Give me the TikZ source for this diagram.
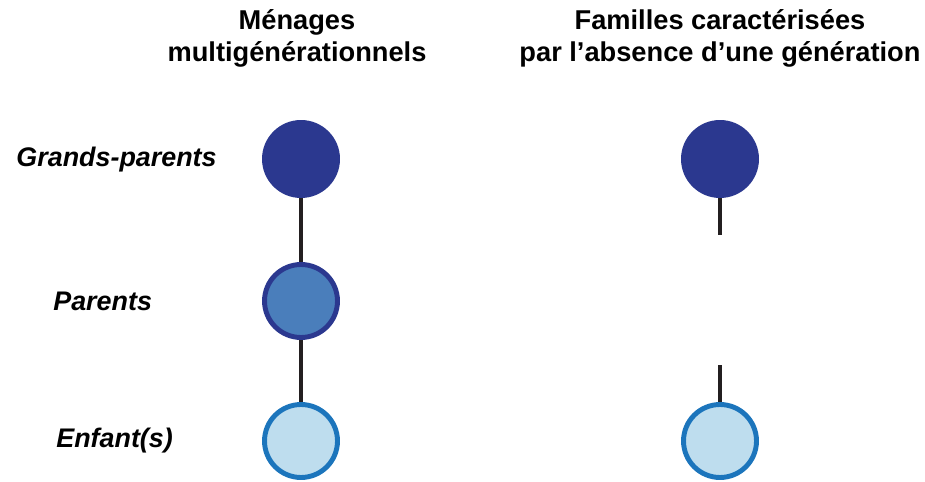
\documentclass[tikz,border=0pt]{standalone}
\usepackage{fontspec}
\setmainfont{Liberation Sans}
\usetikzlibrary{positioning}
\usepackage{xcolor}
\definecolor{NavyBlue}{RGB}{43,56,143}
\definecolor{SteelBlue}{RGB}{74,126,187}
\definecolor{SkyBlue}{RGB}{190,221,238}
\definecolor{MidBlue}{RGB}{28,117,188}
\definecolor{LinkBlack}{RGB}{35,31,32}

\begin{document}
\begin{tikzpicture}[x=0.02cm, y=-0.02cm,
          heading/.style={align=center, inner sep=0pt, anchor=north, font=\fontsize{15.5}{18.2}\selectfont\bfseries},
          label/.style={inner sep=0pt, font=\fontsize{15.3}{18}\selectfont\bfseries\itshape},
          grand/.style={circle, fill=NavyBlue, minimum size=1.56cm, inner sep=0pt},
          parent/.style={circle, draw=NavyBlue, line width=2.8pt, fill=SteelBlue, minimum size=1.46cm, inner sep=0pt},
          child/.style={circle, draw=MidBlue, line width=2.8pt, fill=SkyBlue, minimum size=1.46cm, inner sep=0pt},
          link/.style={LinkBlack, line width=2.8pt}
        ]
          \useasboundingbox (0,0) rectangle (925,482);

          % headings
          \node (h1) [heading] at (297,9) {Ménages\\multigénérationnels};
          \node (h2) [heading] at (720,9) {Familles caractérisées\\par l’absence d’une génération};

          % generation labels
          \node (l1) [label, anchor=east] at (217,160) {Grands-parents};
          \node (l2) [label, anchor=west] at (53,301) {Parents};
          \node (l3) [label, anchor=west] at (56,441) {Enfant(s)};

          % multigenerational household
          \node (g1) [grand] at (301,159) {};
          \node (p1) [parent] at (301,301) {};
          \node (c1) [child] at (301,441) {};
          \draw[link] (g1) -- (p1);
          \draw[link] (p1) -- (c1);

          % skipped generation
          \node (g2) [grand] at (720,159) {};
          \node (c2) [child] at (720,441) {};
          \coordinate (gap1) at (720,235);
          \coordinate (gap2) at (720,365);
          \draw[link] (g2) -- (gap1);
          \draw[link] (gap2) -- (c2);
        \end{tikzpicture}
\end{document}
